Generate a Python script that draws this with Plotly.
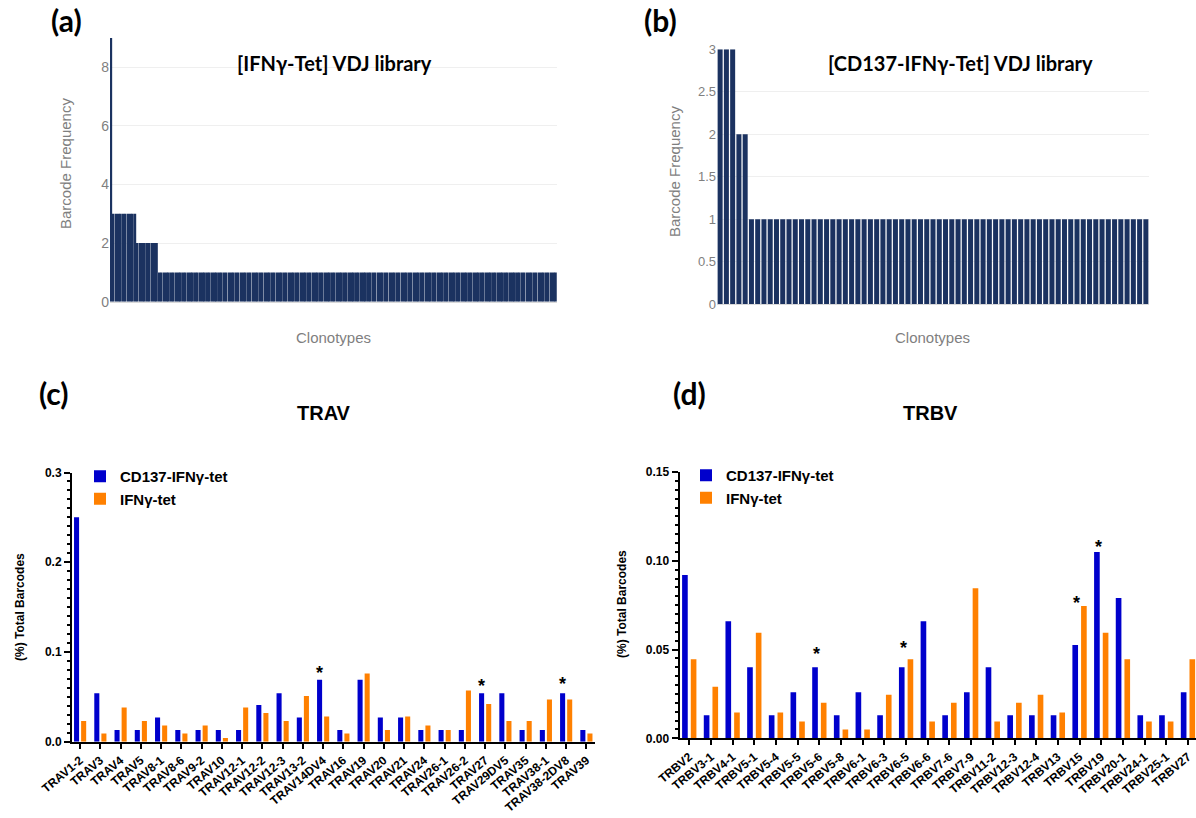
import plotly.graph_objects as go

W, H = 1196, 818

# ---------------- data ----------------
# (a) [IFNγ-Tet] VDJ library: barcode frequency level and number of clonotypes at that level
a_levels = [9, 3, 2, 1]
a_counts = [1, 10, 9, 166]
# (b) [CD137-IFNγ-Tet] VDJ library
b_levels = [3, 2, 1]
b_counts = [3, 2, 64]

# (c) TRAV usage, % total barcodes
trav = ["TRAV1-2", "TRAV3", "TRAV4", "TRAV5", "TRAV8-1", "TRAV8-6", "TRAV9-2", "TRAV10",
        "TRAV12-1", "TRAV12-2", "TRAV12-3", "TRAV13-2", "TRAV14DV4", "TRAV16", "TRAV19",
        "TRAV20", "TRAV21", "TRAV24", "TRAV26-1", "TRAV26-2", "TRAV27", "TRAV29DV5",
        "TRAV35", "TRAV38-1", "TRAV38-2DV8", "TRAV39"]
trav_cd137 = [0.250, 0.054, 0.013, 0.013, 0.027, 0.013, 0.013, 0.013, 0.013, 0.041, 0.054, 0.027,
              0.069, 0.013, 0.069, 0.027, 0.027, 0.013, 0.013, 0.013, 0.054, 0.054, 0.013, 0.013,
              0.054, 0.013]
trav_ifng = [0.023, 0.009, 0.038, 0.023, 0.018, 0.009, 0.018, 0.004, 0.038, 0.032, 0.023, 0.051,
             0.028, 0.009, 0.076, 0.013, 0.028, 0.018, 0.013, 0.057, 0.042, 0.023, 0.023, 0.047,
             0.047, 0.009]
trav_star = ["TRAV14DV4", "TRAV27", "TRAV38-2DV8"]
trav_star_y = [0.081, 0.0665, 0.0687]

# (d) TRBV usage, % total barcodes
trbv = ["TRBV2", "TRBV3-1", "TRBV4-1", "TRBV5-1", "TRBV5-4", "TRBV5-5", "TRBV5-6", "TRBV5-8",
        "TRBV6-1", "TRBV6-3", "TRBV6-5", "TRBV6-6", "TRBV7-6", "TRBV7-9", "TRBV11-2", "TRBV12-3",
        "TRBV12-4", "TRBV13", "TRBV15", "TRBV19", "TRBV20-1", "TRBV24-1", "TRBV25-1", "TRBV27"]
trbv_cd137 = [0.092, 0.013, 0.066, 0.040, 0.013, 0.026, 0.040, 0.013, 0.026, 0.013, 0.040, 0.066,
              0.013, 0.026, 0.040, 0.013, 0.013, 0.013, 0.0525, 0.105, 0.079, 0.013, 0.013, 0.026]
trbv_ifng = [0.0445, 0.029, 0.0145, 0.0595, 0.0145, 0.0095, 0.020, 0.005, 0.005, 0.0245, 0.0445,
             0.0095, 0.020, 0.0845, 0.0095, 0.020, 0.0245, 0.0145, 0.0745, 0.0595, 0.0445, 0.0095,
             0.0095, 0.0445]
trbv_star = ["TRBV5-6", "TRBV6-5", "TRBV15", "TRBV19"]
trbv_star_y = [0.050, 0.0534, 0.0783, 0.110]

series_names = ["CD137-IFNγ-tet", "IFNγ-tet"]


def expand(levels, counts):
    out = []
    for v, c in zip(levels, counts):
        out.extend([v] * c)
    return out


a_freq = expand(a_levels, a_counts)
b_freq = expand(b_levels, b_counts)

# ---------------- style ----------------
ARIAL = "Liberation Sans, Arial, sans-serif"
CAL = "Lato, Carlito, sans-serif"
NAVY = "#1b3260"
BLUE = "#0000CC"
ORANGE = "#FF8000"
GRAY = "#7f7f7f"


def px(x):
    return x / W


def py(y):
    return 1 - y / H


fig = go.Figure()

# (a)
fig.add_trace(go.Bar(x=list(range(len(a_freq))), y=a_freq, width=0.8, marker=dict(color=NAVY, line=dict(width=0)),
                     xaxis="x", yaxis="y", showlegend=False))
# (b)
fig.add_trace(go.Bar(x=list(range(len(b_freq))), y=b_freq, width=0.8, marker=dict(color=NAVY, line=dict(width=0)),
                     xaxis="x2", yaxis="y2", showlegend=False))
# (c)
fig.add_trace(go.Bar(x=trav, y=trav_cd137, name=series_names[0], width=0.25, offset=-0.3,
                     marker=dict(color=BLUE, line=dict(width=0)), xaxis="x3", yaxis="y3", legend="legend"))
fig.add_trace(go.Bar(x=trav, y=trav_ifng, name=series_names[1], width=0.25, offset=0.05,
                     marker=dict(color=ORANGE, line=dict(width=0)), xaxis="x3", yaxis="y3", legend="legend"))
# (d)
fig.add_trace(go.Bar(x=trbv, y=trbv_cd137, name=series_names[0], width=0.26, offset=-0.33,
                     marker=dict(color=BLUE, line=dict(width=0)), xaxis="x4", yaxis="y4", legend="legend2"))
fig.add_trace(go.Bar(x=trbv, y=trbv_ifng, name=series_names[1], width=0.26, offset=0.07,
                     marker=dict(color=ORANGE, line=dict(width=0)), xaxis="x4", yaxis="y4", legend="legend2"))

top_x = dict(showticklabels=False, showgrid=False, zeroline=False, showline=True, linecolor="#d9d9d9",
             linewidth=1, ticks="", automargin=False)
top_y = dict(showline=False, ticks="", zeroline=False, showgrid=True, gridcolor="#efefef", gridwidth=1,
             automargin=False)
prism_x = dict(type="category", showline=True, linewidth=2, linecolor="black", ticks="outside", ticklen=5,
               tickwidth=2, tickcolor="black", tickangle=-40, showgrid=False, zeroline=False, automargin=False,
               tickfont=dict(family=ARIAL, size=12, color="black", weight="bold"))
prism_y = dict(showline=True, linewidth=2, linecolor="black", ticks="outside", ticklen=6, tickwidth=2,
               tickcolor="black", showgrid=False, zeroline=False, automargin=False,
               tickfont=dict(family=ARIAL, size=12, color="black", weight="bold"))

fig.update_layout(
    width=W, height=H, margin=dict(l=0, r=0, t=0, b=0, autoexpand=False),
    paper_bgcolor="white", plot_bgcolor="white",
    barmode="overlay",
    xaxis=dict(domain=[px(110), px(557)], range=[-0.5, len(a_freq) - 0.5], anchor="y", **top_x),
    yaxis=dict(domain=[py(301.7), py(38)], range=[0, 9], tickvals=[0, 2, 4, 6, 8], anchor="x",
               tickfont=dict(family=ARIAL, color=GRAY, size=14), **top_y),
    xaxis2=dict(domain=[px(717), px(1149)], range=[-0.5, len(b_freq) - 0.5], anchor="y2", **top_x),
    yaxis2=dict(domain=[py(304.3), py(49.3)], range=[0, 3], dtick=0.5, anchor="x2",
                tickfont=dict(family=ARIAL, color=GRAY, size=13), **top_y),
    xaxis3=dict(domain=[px(72), px(594.5)], range=[-0.4, len(trav) - 0.6], anchor="y3", **prism_x),
    yaxis3=dict(domain=[py(741.7), py(472.5)], range=[0, 0.3], tickvals=[0, 0.1, 0.2, 0.3], tickformat=".1f",
                anchor="x3",
                minor=dict(tick0=0, dtick=0.01, ticks="outside", ticklen=3, tickwidth=1.5, tickcolor="black",
                           showgrid=False), **prism_y),
    xaxis4=dict(domain=[px(679.5), 1.0], range=[-0.45, len(trbv) - 0.63], anchor="y4", **prism_x),
    yaxis4=dict(domain=[py(738.3), py(472)], range=[0, 0.15], tickvals=[0, 0.05, 0.10, 0.15], tickformat=".2f",
                anchor="x4",
                minor=dict(tick0=0, dtick=0.005, ticks="outside", ticklen=3, tickwidth=1.5, tickcolor="black",
                           showgrid=False), **prism_y),
    legend=dict(x=px(80), y=py(460), xanchor="left", yanchor="top", bgcolor="rgba(0,0,0,0)",
                font=dict(family=ARIAL, size=15, color="black", weight="bold"), tracegroupgap=0),
    legend2=dict(x=px(686), y=py(459), xanchor="left", yanchor="top", bgcolor="rgba(0,0,0,0)",
                 font=dict(family=ARIAL, size=15, color="black", weight="bold"), tracegroupgap=0),
)

ann = []


def txt(x, y, s, size, family, color="black", bold=False, angle=0):
    ann.append(dict(x=px(x), y=py(y), xref="paper", yref="paper", text=s, showarrow=False,
                    textangle=angle, xanchor="center", yanchor="middle",
                    font=dict(family=family, size=size, color=color, weight="bold" if bold else "normal")))


# panel letters
txt(66, 20, "(a)", 30, CAL, bold=True)
txt(660, 20, "(b)", 30, CAL, bold=True)
txt(54, 393, "(c)", 30, CAL, bold=True)
txt(689, 393, "(d)", 30, CAL, bold=True)
# top titles
txt(334, 63, "[IFNγ-Tet] VDJ library", 20, CAL, bold=True)
txt(960, 63, "[CD137-IFNγ-Tet] VDJ library", 20, CAL, bold=True)
# top axis titles
txt(65, 164, "Barcode Frequency", 15, ARIAL, color=GRAY, angle=-90)
txt(333, 337, "Clonotypes", 15, ARIAL, color=GRAY)
txt(675, 172, "Barcode Frequency", 15, ARIAL, color=GRAY, angle=-90)
txt(932, 338, "Clonotypes", 15, ARIAL, color=GRAY)
# bottom titles
txt(324, 413, "TRAV", 20, ARIAL, bold=True)
txt(930, 413, "TRBV", 20, ARIAL, bold=True)
txt(20, 607, "(%) Total Barcodes", 12, ARIAL, bold=True, angle=-90)
txt(622, 604, "(%) Total Barcodes", 12, ARIAL, bold=True, angle=-90)

# significance stars
for cat, yv in zip(trav_star, trav_star_y):
    ann.append(dict(x=cat, y=yv, xref="x3", yref="y3", text="*", showarrow=False, xshift=-4, yshift=-4,
                    font=dict(family=ARIAL, size=18, color="black", weight="bold")))
for cat, yv in zip(trbv_star, trbv_star_y):
    ann.append(dict(x=cat, y=yv, xref="x4", yref="y4", text="*", showarrow=False, xshift=-3, yshift=-4,
                    font=dict(family=ARIAL, size=18, color="black", weight="bold")))

fig.update_layout(annotations=ann)

fig.write_html("out.html")
